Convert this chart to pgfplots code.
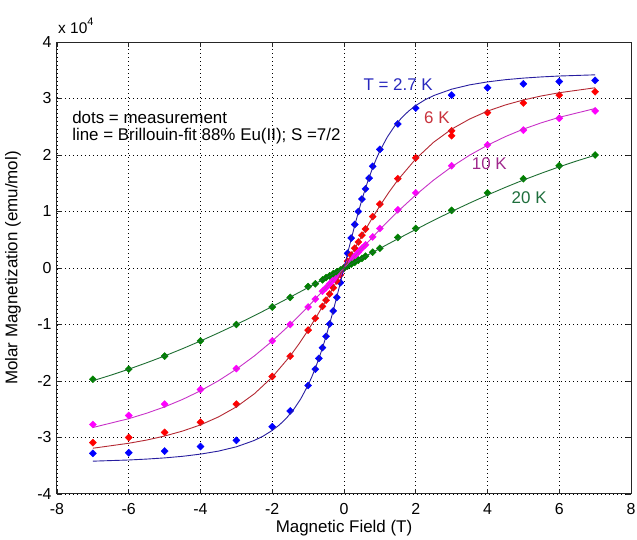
\documentclass[border=0pt]{standalone}
\usepackage{fontspec}
\setmainfont{Liberation Sans}
\usepackage{pgfplots}
\pgfplotsset{compat=1.18}

\definecolor{dotblue}{RGB}{0,0,255}
\definecolor{dotred}{RGB}{255,0,0}
\definecolor{dotmag}{RGB}{255,0,255}
\definecolor{dotgreen}{RGB}{0,128,0}
\definecolor{lineblue}{RGB}{40,30,160}
\definecolor{linered}{RGB}{180,40,50}
\definecolor{linemag}{RGB}{200,50,200}
\definecolor{linegreen}{RGB}{30,110,50}
\definecolor{txtblue}{RGB}{40,40,190}
\definecolor{txtred}{RGB}{200,50,60}
\definecolor{txtmag}{RGB}{160,40,140}
\definecolor{txtgreen}{RGB}{30,110,60}

\begin{document}
\begin{tikzpicture}
\useasboundingbox (-57bp,-46bp) rectangle (580bp,494bp);
\begin{axis}[
    scale only axis,
    width=574bp, height=452bp,
    xmin=-8, xmax=8, ymin=-4, ymax=4,
    clip mode=individual,
    xtick={-8,-6,...,8},
    xticklabels={-8,-6,-4,-2,0,2,4,6,8},
    ytick={-4,-3,...,4},
    yticklabels={-4,-3,-2,-1,0,1,2,3,4},
    tick align=inside,
    major tick length=5bp,
    tick label style={font=\fontsize{16}{19}\selectfont},
    xticklabel style={yshift=-6bp},
    yticklabel style={xshift=-2bp},
    grid=major,
    grid style={black, line width=0.8bp, dash pattern=on 0.8bp off 3.2bp},
    axis line style={black!85, line width=1bp},
    tick style={black!85, line width=0.8bp},
    every axis x label/.style={at={(axis description cs:0.5,-0.0752)}, anchor=center},
    every axis y label/.style={at={(axis description cs:-0.0767,0.5)}, anchor=center, rotate=90},
    label style={font=\fontsize{17}{20}\selectfont},
    xlabel={Magnetic Field (T)},
    ylabel={Molar Magnetization (emu/mol)},
]
% measurement dots
\addplot[only marks, mark=square*, mark size=2.5bp, mark options={rotate=45, fill=dotblue, draw=dotblue}] coordinates {
(-7,-3.28) (-6,-3.27) (-5,-3.24) (-4,-3.16) (-3,-3.05) (-2,-2.81) (-1.5,-2.53) (-1,-2.08)
(-0.8,-1.79) (-0.7,-1.60) (-0.6,-1.41) (-0.5,-1.21) (-0.4,-0.99) (-0.3,-0.76) (-0.2,-0.52) (-0.1,-0.26)
(0,0) (0.1,0.26) (0.2,0.53) (0.3,0.77) (0.4,1.00) (0.5,1.22) (0.6,1.40) (0.7,1.59) (0.8,1.80)
(1,2.10) (1.5,2.55) (2,2.83) (3,3.06) (4,3.19) (5,3.26) (6,3.30) (7,3.32)};
\addplot[only marks, mark=square*, mark size=2.5bp, mark options={rotate=45, fill=dotred, draw=dotred}] coordinates {
(-7,-3.09) (-6,-3.00) (-5,-2.91) (-4,-2.73) (-3,-2.41) (-2,-1.92) (-1.5,-1.56) (-1,-1.10)
(-0.8,-0.89) (-0.6,-0.68) (-0.5,-0.57) (-0.4,-0.46) (-0.3,-0.35) (-0.2,-0.23) (-0.1,-0.12)
(0,0) (0.1,0.12) (0.2,0.23) (0.3,0.35) (0.4,0.46) (0.5,0.58) (0.6,0.69) (0.8,0.91)
(1,1.13) (1.5,1.58) (2,1.95) (3,2.43) (3,2.34) (4,2.75) (5,2.92) (6,3.06) (7,3.12)};
\addplot[only marks, mark=square*, mark size=2.5bp, mark options={rotate=45, fill=dotmag, draw=dotmag}] coordinates {
(-7,-2.77) (-6,-2.61) (-5,-2.41) (-4,-2.15) (-3,-1.78) (-2,-1.29) (-1.5,-1.00) (-1,-0.69)
(-0.8,-0.55) (-0.6,-0.41) (-0.5,-0.35) (-0.4,-0.28) (-0.3,-0.21) (-0.2,-0.14) (-0.1,-0.07)
(0,0) (0.1,0.07) (0.2,0.14) (0.3,0.21) (0.4,0.28) (0.5,0.35) (0.6,0.41) (0.8,0.55)
(1,0.70) (1.5,1.03) (2,1.33) (3,1.81) (4,2.18) (5,2.44) (6,2.65) (7,2.78)};
\addplot[only marks, mark=square*, mark size=2.5bp, mark options={rotate=45, fill=dotgreen, draw=dotgreen}] coordinates {
(-7,-1.97) (-6,-1.79) (-5,-1.56) (-4,-1.29) (-3,-1.00) (-2,-0.69) (-1.5,-0.52) (-1,-0.33)
(-0.8,-0.28) (-0.6,-0.21) (-0.5,-0.17) (-0.4,-0.14) (-0.3,-0.10) (-0.2,-0.07) (-0.1,-0.035)
(0,0) (0.1,0.035) (0.2,0.07) (0.3,0.10) (0.4,0.14) (0.5,0.17) (0.6,0.21) (0.8,0.28)
(1,0.35) (1.5,0.54) (2,0.70) (3,1.02) (4,1.33) (5,1.58) (6,1.81) (7,2.00)};
% Brillouin fit lines
\addplot[no marks, lineblue, line width=0.9bp] coordinates {
(-7,-3.419) (-6,-3.398) (-5.5,-3.382) (-5,-3.361) (-4.5,-3.333) (-4,-3.294) (-3.5,-3.241)
(-3,-3.165) (-2.5,-3.052) (-2.25,-2.974) (-2,-2.875) (-1.8,-2.777) (-1.6,-2.654) (-1.4,-2.501)
(-1.2,-2.310) (-1,-2.071) (-0.9,-1.931) (-0.8,-1.775) (-0.7,-1.602) (-0.6,-1.414) (-0.5,-1.209)
(-0.4,-0.988) (-0.3,-0.754) (-0.2,-0.510) (-0.1,-0.257) (0,0)
(0.1,0.257) (0.2,0.510) (0.3,0.754) (0.4,0.988) (0.5,1.209) (0.6,1.414) (0.7,1.602)
(0.8,1.775) (0.9,1.931) (1,2.071) (1.2,2.310) (1.4,2.501) (1.6,2.654) (1.8,2.777) (2,2.875)
(2.25,2.974) (2.5,3.052) (3,3.165) (3.5,3.241) (4,3.294) (4.5,3.333) (5,3.361) (5.5,3.382)
(6,3.398) (7,3.419)};
\addplot[no marks, linered, line width=0.9bp] coordinates {
(-7,-3.190) (-6,-3.102) (-5.5,-3.045) (-5,-2.974) (-4.5,-2.886) (-4,-2.777) (-3.5,-2.636)
(-3,-2.458) (-2.5,-2.227) (-2,-1.931) (-1.5,-1.557) (-1.25,-1.339) (-1,-1.100) (-0.75,-0.844)
(-0.5,-0.572) (-0.25,-0.289) (0,0) (0.25,0.289) (0.5,0.572) (0.75,0.844) (1,1.100)
(1.25,1.339) (1.5,1.557) (2,1.931) (2.5,2.227) (3,2.458) (3.5,2.636) (4,2.777) (4.5,2.886)
(5,2.974) (5.5,3.045) (6,3.102) (7,3.190)};
\addplot[no marks, linemag, line width=0.9bp] coordinates {
(-7,-2.823) (-6,-2.667) (-5.5,-2.570) (-5,-2.458) (-4.5,-2.326) (-4,-2.173) (-3.5,-1.996)
(-3,-1.791) (-2.5,-1.557) (-2,-1.292) (-1.5,-1.000) (-1,-0.682) (-0.5,-0.346) (0,0)
(0.5,0.346) (1,0.682) (1.5,1.000) (2,1.292) (2.5,1.557) (3,1.791) (3.5,1.996) (4,2.173)
(4.5,2.326) (5,2.458) (5.5,2.570) (6,2.667) (7,2.823)};
\addplot[no marks, linegreen, line width=0.9bp] coordinates {
(-7,-1.996) (-6.5,-1.897) (-6,-1.791) (-5.5,-1.677) (-5,-1.557) (-4.5,-1.428) (-4,-1.292)
(-3.5,-1.149) (-3,-1.000) (-2.5,-0.844) (-2,-0.682) (-1.5,-0.516) (-1,-0.346) (-0.5,-0.174)
(0,0) (0.5,0.174) (1,0.346) (1.5,0.516) (2,0.682) (2.5,0.844) (3,1.000) (3.5,1.149)
(4,1.292) (4.5,1.428) (5,1.557) (5.5,1.677) (6,1.791) (6.5,1.897) (7,1.996)};
% annotations
\node[anchor=base west, inner sep=0pt, font=\fontsize{15.5}{18}\selectfont] at (rel axis cs:0,1) [xshift=1bp, yshift=8.7bp] {x 10\raisebox{8bp}{\fontsize{11}{12}\selectfont 4}};
\node[anchor=base west, inner sep=0pt, font=\fontsize{17}{20}\selectfont] at (axis cs:-7.58,2.549) {dots = measurement};
\node[anchor=base west, inner sep=0pt, font=\fontsize{17}{20}\selectfont] at (axis cs:-7.58,2.248) {line = Brillouin-fit 88\% Eu(II); S =7/2};
\node[anchor=base west, inner sep=0pt, text=txtblue, font=\fontsize{17}{20}\selectfont] at (axis cs:0.54,3.14) {T = 2.7 K};
\node[anchor=base west, inner sep=0pt, text=txtred, font=\fontsize{17}{20}\selectfont] at (axis cs:2.23,2.56) {6 K};
\node[anchor=base west, inner sep=0pt, text=txtmag, font=\fontsize{17}{20}\selectfont] at (axis cs:3.56,1.75) {10 K};
\node[anchor=base west, inner sep=0pt, text=txtgreen, font=\fontsize{17}{20}\selectfont] at (axis cs:4.67,1.145) {20 K};
\end{axis}
\end{tikzpicture}
\end{document}
